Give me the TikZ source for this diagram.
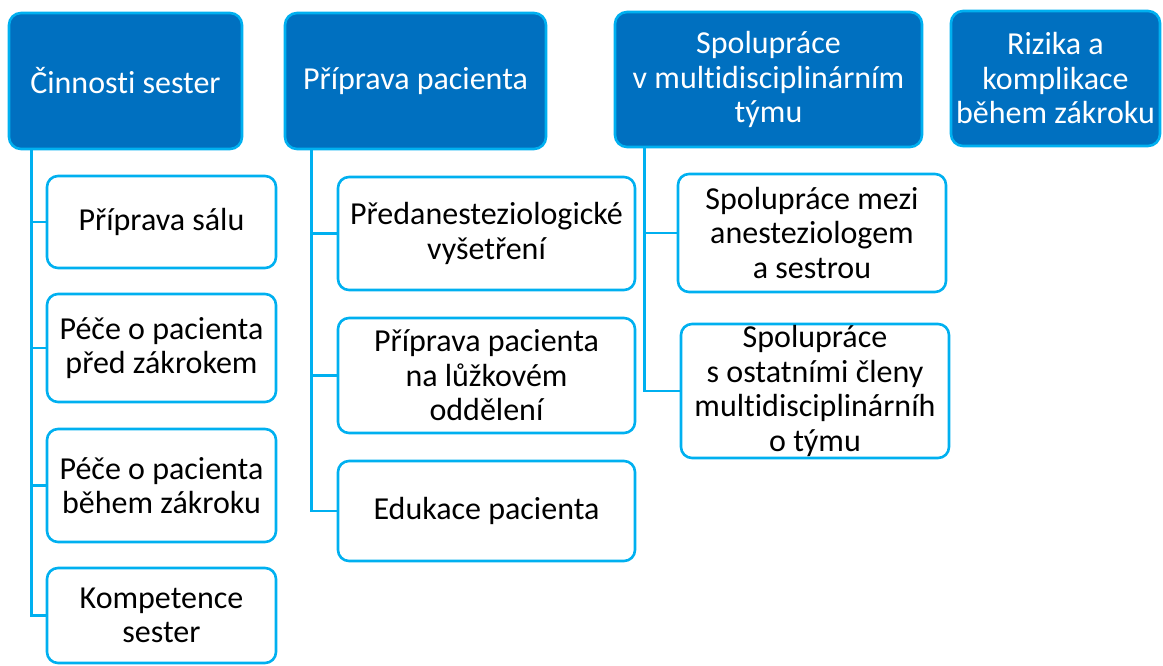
\documentclass[tikz,border=0pt]{standalone}
\usepackage{fontspec}
\setmainfont[Ligatures=NoCommon,RawFeature=-liga]{Carlito}
\definecolor{dblue}{RGB}{0,112,192}
\definecolor{lblue}{RGB}{0,176,240}
\begin{document}
\begin{tikzpicture}[x=1pt,y=-1pt,
  txt/.style={font=\fontsize{32}{34.5}\selectfont, align=center, inner sep=0pt},
  head/.style={txt, draw=lblue, fill=dblue, text=white, line width=2.6pt, rounded corners=12pt},
  child/.style={txt, draw=lblue, fill=white, text=black, line width=2.6pt, rounded corners=11pt},
  conn/.style={draw=lblue, line width=2.6pt}]
\useasboundingbox (0,0) rectangle (1163,666);

% headers
\node[head, minimum width=233pt, minimum height=136pt] (h1) at (125.5,81) {Činnosti sester};
\node[head, minimum width=261pt, minimum height=136pt] (h2) at (415.5,81) {Příprava pacienta};
\node[head, minimum width=307pt, minimum height=135pt] (h3) at (768.5,79.5) {Spolupráce\\v multidisciplinárním\\týmu};
\node[head, minimum width=209pt, minimum height=135pt] (h4) at (1055.5,78.5) {Rizika a\\komplikace\\během zákroku};

% column 1
\node[child, minimum width=229pt, minimum height=92pt] (c11) at (161.5,222) {Příprava sálu};
\node[child, minimum width=229pt, minimum height=108pt] (c12) at (161.5,348) {Péče o pacienta\\před zákrokem};
\node[child, minimum width=229pt, minimum height=113pt] (c13) at (161.5,485.5) {Péče o pacienta\\během zákroku};
\node[child, minimum width=229pt, minimum height=95pt] (c14) at (161.5,615.5) {Kompetence\\sester};

% column 2
\node[child, minimum width=297pt, minimum height=113pt] (c21) at (486.5,233.5) {Předanesteziologické\\vyšetření};
\node[child, minimum width=297pt, minimum height=115pt] (c22) at (486.5,375.5) {Příprava pacienta\\na lůžkovém\\oddělení};
\node[child, minimum width=297pt, minimum height=100pt] (c23) at (486.5,511) {Edukace pacienta};

% column 3
\node[child, minimum width=268pt, minimum height=118pt] (c31) at (812,233) {Spolupráce mezi\\anesteziologem\\a sestrou};
\node[child, minimum width=268pt, minimum height=134pt] (c32) at (815,391) {Spolupráce\\s ostatními členy\\multidisciplinárníh\\o týmu};

% connectors
\coordinate (t1) at ([xshift=24pt]h1.south west);
\coordinate (t2) at ([xshift=28pt]h2.south west);
\coordinate (t3) at ([xshift=31pt]h3.south west);
\draw[conn] (t1) |- (c11.west);
\draw[conn] (t1) |- (c12.west);
\draw[conn] (t1) |- (c13.west);
\draw[conn] (t1) |- (c14.west);
\draw[conn] (t2) |- (c21.west);
\draw[conn] (t2) |- (c22.west);
\draw[conn] (t2) |- (c23.west);
\draw[conn] (t3) |- (c31.west);
\draw[conn] (t3) |- (c32.west);
\end{tikzpicture}
\end{document}
